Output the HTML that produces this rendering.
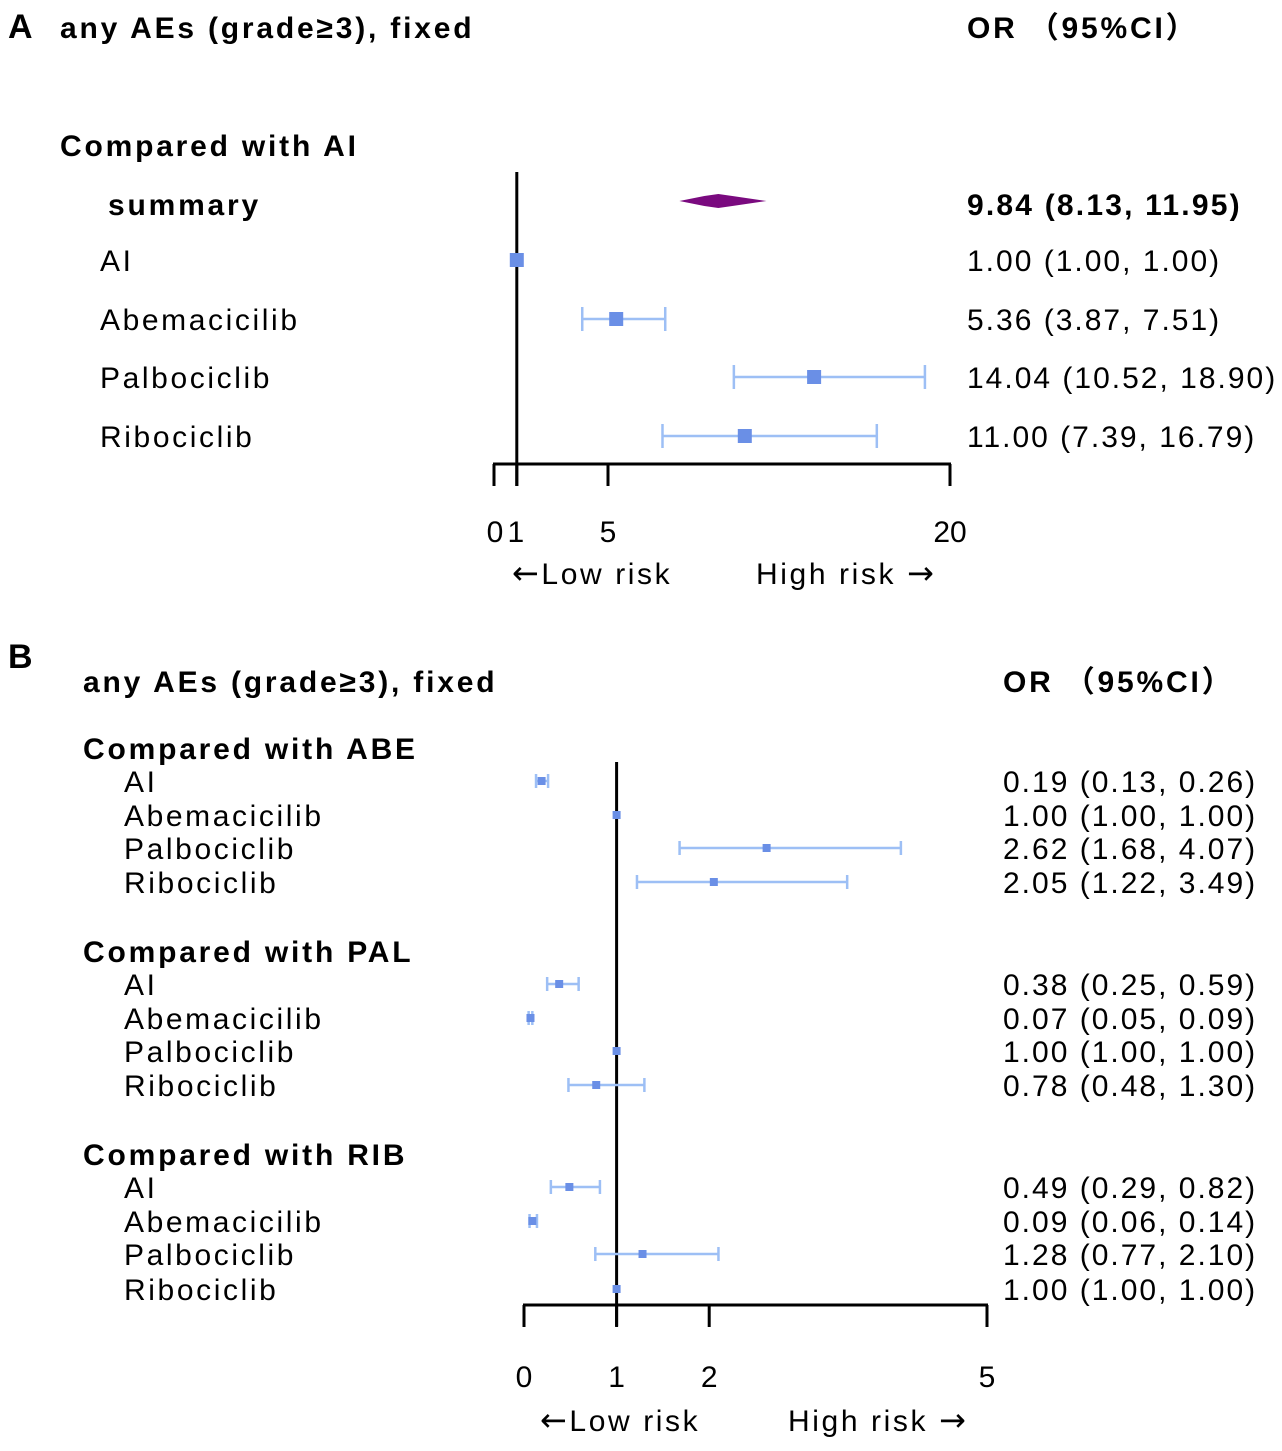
<!DOCTYPE html>
<html><head><meta charset="utf-8">
<style>
html,body{margin:0;padding:0;background:#fff;}
body{width:1282px;height:1446px;overflow:hidden;font-family:"Liberation Sans","Noto Sans CJK SC",sans-serif;}
svg text{font-family:"Liberation Sans","Noto Sans CJK SC",sans-serif;}
.r{letter-spacing:2.6px;}
.v{letter-spacing:2px;}
.b{font-weight:bold;letter-spacing:2.8px;}
.arr{font-family:"DejaVu Sans",sans-serif;}
</style></head>
<body>
<svg id="chart" width="1282" height="1446" viewBox="0 0 1282 1446" xmlns="http://www.w3.org/2000/svg">
<g id="panelA"></g>
<g id="panelB"></g>
</svg>
<script>
// Panel A data
const aLabels = ["AI","Abemacicilib","Palbociclib","Ribociclib"];
const aOR = [1.00, 5.36, 14.04, 11.00];
const aLow = [1.00, 3.87, 10.52, 7.39];
const aHigh = [1.00, 7.51, 18.90, 16.79];
const aSummary = [9.84, 8.13, 11.95];
const aTicks = [0, 1, 5, 20];
const aTickLabels = ["0","1","5","20"];

// Panel B data
const bGroups = ["Compared with ABE","Compared with PAL","Compared with RIB"];
const bLabels = ["AI","Abemacicilib","Palbociclib","Ribociclib"];
const bOR = [[0.19,1.00,2.62,2.05],[0.38,0.07,1.00,0.78],[0.49,0.09,1.28,1.00]];
const bLow = [[0.13,1.00,1.68,1.22],[0.25,0.05,1.00,0.48],[0.29,0.06,0.77,1.00]];
const bHigh = [[0.26,1.00,4.07,3.49],[0.59,0.09,1.00,1.30],[0.82,0.14,2.10,1.00]];
const bTicks = [0, 1, 2, 5];
const bTickLabels = ["0","1","2","5"];

const NS = "http://www.w3.org/2000/svg";
function mk(parent, tag, attrs, txt){
  const e = document.createElementNS(NS, tag);
  for (const k in attrs) e.setAttribute(k, attrs[k]);
  if (txt !== undefined) e.textContent = txt;
  parent.appendChild(e);
  return e;
}
const fmt = v => v.toFixed(2);
const A = document.getElementById('panelA');
const B = document.getElementById('panelB');

function riskLabels(P, y, lx, hx, prefix){
  let e = mk(P,'text',{x:lx,y:y,'font-size':30,'class':'r'});
  
  
  mk(e,'tspan',{'class':'arr','font-size':32},'←');
  mk(e,'tspan',{},'Low risk');
  e = mk(P,'text',{x:hx,y:y,'font-size':30,'class':'r'});
  
  
  mk(e,'tspan',{},'High risk ');
  mk(e,'tspan',{'class':'arr','font-size':32},'→');
}

// ---------- Panel A ----------
const xA = v => 494 + v * (950 - 494) / 20;
let t;
t = mk(A,'text',{x:8,y:38,'font-size':34,'font-weight':'bold'},'A');
 
t = mk(A,'text',{x:60,y:38,'font-size':30,'class':'b'},'any AEs (grade≥3), fixed');
 
t = mk(A,'text',{x:967,y:38,'font-size':30,'class':'b'},'OR （95%CI）');
 
t = mk(A,'text',{x:60,y:156,'font-size':30,'class':'b'},'Compared with AI');
 
t = mk(A,'text',{x:108,y:215,'font-size':30,'class':'b'},'summary');
 
t = mk(A,'text',{x:967,y:215,'font-size':30,'class':'b','style':'letter-spacing:2.2px'},`${fmt(aSummary[0])} (${fmt(aSummary[1])}, ${fmt(aSummary[2])})`);
 
t = mk(A,'line',{x1:xA(1),y1:172,x2:xA(1),y2:486,stroke:'#000','stroke-width':3});
 
const sx = xA(aSummary[0]), sl = xA(aSummary[1]), sh = xA(aSummary[2]);
t = mk(A,'polygon',{points:`${sl},201 ${sx-14},196 ${sx},194 ${sx+14},196 ${sh},201 ${sx+14},206 ${sx},208 ${sx-14},206`,fill:'#7a0a7f'});
 
const aY = [260, 319, 377, 436];
aLabels.forEach((lab,i)=>{
  const y = aY[i];
  let e = mk(A,'text',{x:100,y:y+11,'font-size':30,'class':'r'},lab);
   
  e = mk(A,'text',{x:967,y:y+11,'font-size':30,'class':'v'},`${fmt(aOR[i])} (${fmt(aLow[i])}, ${fmt(aHigh[i])})`);
   
  if (aHigh[i] > aLow[i]) {
    e = mk(A,'line',{x1:xA(aLow[i]),y1:y,x2:xA(aHigh[i]),y2:y,stroke:'#9dbff5','stroke-width':2.5});
     
    e = mk(A,'line',{x1:xA(aLow[i]),y1:y-12,x2:xA(aLow[i]),y2:y+12,stroke:'#9dbff5','stroke-width':2.5});
     
    e = mk(A,'line',{x1:xA(aHigh[i]),y1:y-12,x2:xA(aHigh[i]),y2:y+12,stroke:'#9dbff5','stroke-width':2.5});
     
  }
  e = mk(A,'rect',{x:xA(aOR[i])-7,y:y-7,width:14,height:14,fill:'#6a8fe6'});
   
});
t = mk(A,'line',{x1:xA(0)-1,y1:464,x2:xA(20)+1,y2:464,stroke:'#000','stroke-width':3});
 
aTicks.forEach((v,i)=>{
  let e = mk(A,'line',{x1:xA(v),y1:464,x2:xA(v),y2:486,stroke:'#000','stroke-width':3});
   
  e = mk(A,'text',{x:xA(v)+(v===0?1:(v===1?-1:0)),y:542,'font-size':30,'text-anchor':'middle'},aTickLabels[i]);
   
});
riskLabels(A, 584, 512, 756, 'panel-a');

// ---------- Panel B ----------
const xB = v => 524 + v * (987 - 524) / 5;
t = mk(B,'text',{x:8,y:668,'font-size':34,'font-weight':'bold'},'B');
 
t = mk(B,'text',{x:83,y:692,'font-size':30,'class':'b'},'any AEs (grade≥3), fixed');
 
t = mk(B,'text',{x:1003,y:692,'font-size':30,'class':'b'},'OR （95%CI）');
 
t = mk(B,'line',{x1:xB(1),y1:762,x2:xB(1),y2:1326,stroke:'#000','stroke-width':3});
 
const gTitleY = [759, 962, 1165];
const gRowY = [[781,815,848,882],[984,1018,1051,1085],[1187,1221,1254,1289]];
bGroups.forEach((g,gi)=>{
  let e = mk(B,'text',{x:83,y:gTitleY[gi],'font-size':30,'class':'b'},g);
   
  bLabels.forEach((lab,i)=>{
    const y = gRowY[gi][i];
    let r = mk(B,'text',{x:124,y:y+11,'font-size':30,'class':'r'},lab);
     
    r = mk(B,'text',{x:1003,y:y+11,'font-size':30,'class':'v'},`${fmt(bOR[gi][i])} (${fmt(bLow[gi][i])}, ${fmt(bHigh[gi][i])})`);
     
    const lo = bLow[gi][i], hi = bHigh[gi][i];
    if (hi > lo) {
      r = mk(B,'line',{x1:xB(lo),y1:y,x2:xB(hi),y2:y,stroke:'#9dbff5','stroke-width':2.5});
       
      r = mk(B,'line',{x1:xB(lo),y1:y-7,x2:xB(lo),y2:y+7,stroke:'#9dbff5','stroke-width':2.5});
       
      r = mk(B,'line',{x1:xB(hi),y1:y-7,x2:xB(hi),y2:y+7,stroke:'#9dbff5','stroke-width':2.5});
       
    }
    r = mk(B,'rect',{x:xB(bOR[gi][i])-4,y:y-4,width:8,height:8,fill:'#6a8fe6'});
     
  });
});
t = mk(B,'line',{x1:xB(0)-1,y1:1305,x2:xB(5)+1,y2:1305,stroke:'#000','stroke-width':3});
 
bTicks.forEach((v,i)=>{
  let e = mk(B,'line',{x1:xB(v),y1:1305,x2:xB(v),y2:1327,stroke:'#000','stroke-width':3});
   
  e = mk(B,'text',{x:xB(v),y:1387,'font-size':30,'text-anchor':'middle'},bTickLabels[i]);
   
});
riskLabels(B, 1431, 540, 788, 'panel-b');
</script>
</body></html>
